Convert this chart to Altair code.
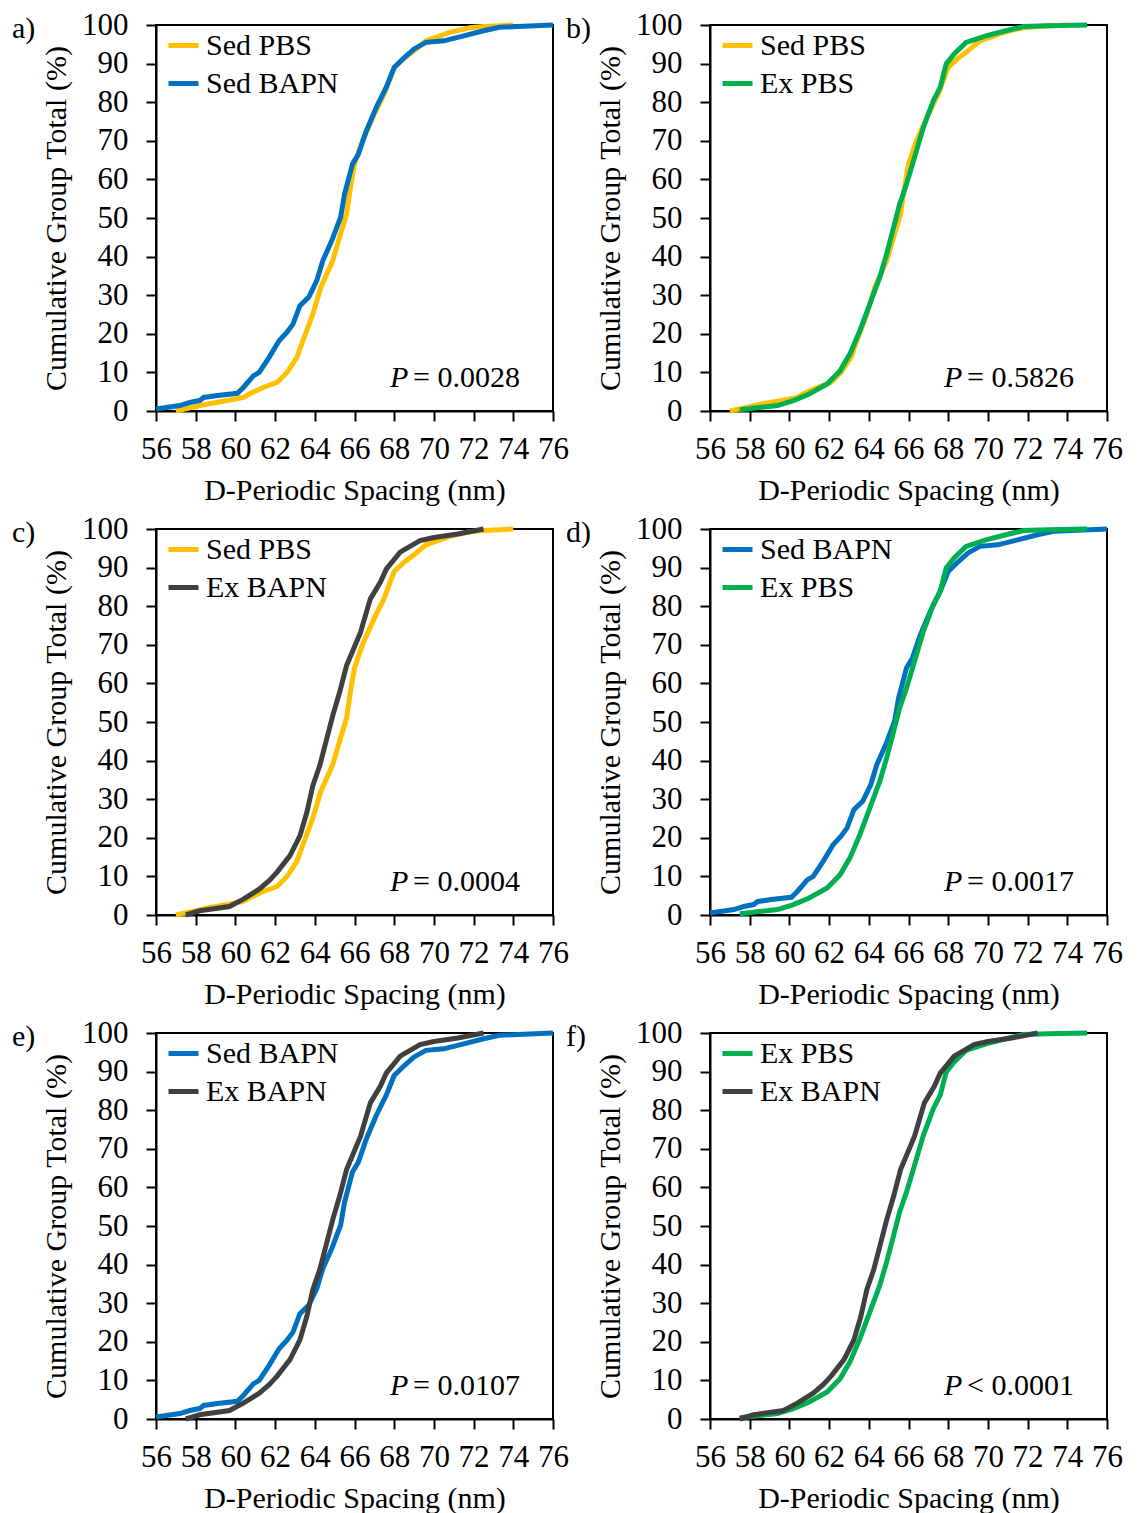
import altair as alt
import pandas as pd

FONT = "Liberation Serif"

# ---- data (cumulative % vs D-periodic spacing, nm) ----
sed_pbs_x = [57.0, 57.9, 58.6, 59.6, 60.4, 60.7, 61.4, 62.1, 62.6, 63.1, 63.4, 63.9, 64.3, 64.9, 65.3,
             65.6, 65.8, 66.0, 66.4, 67.0, 67.5, 68.0, 68.5, 69.0, 69.6, 70.2, 70.8, 71.8, 72.5, 74.0]
sed_pbs_y = [0.0, 1.0, 1.8, 2.7, 3.5, 4.4, 6.1, 7.4, 10.0, 13.9, 18.2, 25.1, 32.0, 38.9, 45.9,
             51.0, 58.0, 64.0, 70.0, 76.9, 82.1, 89.0, 91.4, 93.3, 95.9, 97.0, 98.1, 99.3, 99.6, 100.0]

sed_bapn_x = [56.0, 57.2, 57.7, 58.2, 58.4, 59.1, 60.1, 60.4, 60.9, 61.2, 61.7, 62.2, 62.6, 62.9, 63.25,
              63.7, 64.1, 64.4, 64.85, 65.3, 65.5, 65.9, 66.2, 66.6, 67.1, 67.6, 68.0, 68.5, 69.0, 69.6,
              70.5, 71.5, 72.5, 73.3, 74.2, 76.0]
sed_bapn_y = [0.5, 1.4, 2.2, 2.7, 3.5, 4.0, 4.6, 6.1, 9.1, 10.0, 13.9, 18.2, 20.4, 22.5, 27.3,
              29.5, 33.8, 38.9, 44.1, 50.2, 56.2, 64.0, 66.6, 72.6, 78.7, 83.9, 89.0, 91.5, 93.8, 95.5,
              95.9, 97.2, 98.5, 99.4, 99.6, 100.0]

ex_pbs_x = [57.5, 58.5, 59.4, 60.2, 61.0, 61.9, 62.55, 63.05, 63.55, 64.05, 64.55, 64.9, 65.25, 65.55,
            65.9, 66.25, 66.75, 67.25, 67.6, 67.9, 68.3, 68.9, 69.9, 70.9, 71.8, 73.0, 75.0]
ex_pbs_y = [0.3, 0.9, 1.4, 2.7, 4.4, 7.0, 10.4, 14.8, 20.8, 27.7, 34.6, 40.7, 47.6, 53.6,
            58.8, 64.8, 73.5, 80.4, 83.9, 89.9, 92.5, 95.5, 97.2, 98.5, 99.6, 99.8, 100.0]

ex_bapn_x = [57.5, 58.2, 59.7, 60.4, 61.2, 61.7, 62.1, 62.75, 63.25, 63.6, 63.9, 64.25, 64.6, 64.9,
             65.25, 65.6, 65.95, 66.3, 66.8, 67.3, 67.6, 68.3, 69.3, 70.0, 71.2, 72.5]
ex_bapn_y = [0.0, 1.1, 2.2, 4.1, 6.7, 8.9, 11.1, 15.4, 20.5, 26.6, 33.5, 38.7, 45.6, 51.6,
             57.7, 64.6, 68.9, 73.2, 81.9, 86.2, 89.6, 94.0, 97.0, 97.8, 98.7, 100.0]

series_names = ["Sed PBS", "Sed BAPN", "Ex PBS", "Ex BAPN"]
series_colors = ["#FFC000", "#0070C0", "#00B050", "#404040"]
series_data = {
    "Sed PBS": (sed_pbs_x, sed_pbs_y),
    "Sed BAPN": (sed_bapn_x, sed_bapn_y),
    "Ex PBS": (ex_pbs_x, ex_pbs_y),
    "Ex BAPN": (ex_bapn_x, ex_bapn_y),
}

panel_labels = ["a)", "b)", "c)", "d)", "e)", "f)"]
panel_pairs = [("Sed PBS", "Sed BAPN"), ("Sed PBS", "Ex PBS"), ("Sed PBS", "Ex BAPN"),
               ("Sed BAPN", "Ex PBS"), ("Sed BAPN", "Ex BAPN"), ("Ex PBS", "Ex BAPN")]
p_texts = ["= 0.0028", "= 0.5826", "= 0.0004", "= 0.0017", "= 0.0107", "< 0.0001"]

x_ticks = list(range(56, 77, 2))
y_ticks = list(range(0, 101, 10))

rows = []
for name in series_names:
    xs, ys = series_data[name]
    for i, (xv, yv) in enumerate(zip(xs, ys)):
        rows.append({"series": name, "x": xv, "y": yv, "i": i})
df = pd.DataFrame(rows)
color_of = dict(zip(series_names, series_colors))

W, H = 397, 386


def panel(k):
    s1, s2 = panel_pairs[k]
    color = alt.Color(
        "series:N",
        scale=alt.Scale(domain=[s1, s2], range=[color_of[s1], color_of[s2]]),
        legend=alt.Legend(
            title=None, orient="none", legendX=10, legendY=3, padding=0,
            symbolType="stroke", symbolStrokeWidth=5, symbolSize=900,
            labelFont=FONT, labelFontSize=30, labelColor="black",
            labelOffset=5, rowPadding=5, labelLimit=400,
        ),
        sort=[s1, s2],
    )
    xenc = alt.X("x:Q", scale=alt.Scale(domain=[56, 76], nice=False),
                 axis=alt.Axis(values=x_ticks, title="D-Periodic Spacing (nm)",
                               labelPadding=13, titlePadding=11, labelFlush=False,
                               labelOverlap=False))
    yenc = alt.Y("y:Q", scale=alt.Scale(domain=[0, 100], nice=False),
                 axis=alt.Axis(values=y_ticks, title="Cumulative Group Total (%)",
                               labelPadding=18, titlePadding=10, labelOverlap=False))
    layers = []
    for s in (s1, s2):
        layers.append(
            alt.Chart(df).transform_filter(alt.datum.series == s)
            .mark_line(strokeWidth=5, clip=False)
            .encode(x=xenc, y=yenc, color=color, order="i:Q")
        )
    p_italic = alt.Chart(pd.DataFrame({"t": ["P"]})).mark_text(
        font=FONT, fontSize=30, fontStyle="italic", align="left", baseline="alphabetic",
        color="black").encode(x=alt.value(234), y=alt.value(362), text="t:N")
    p_rest = alt.Chart(pd.DataFrame({"t": [p_texts[k]]})).mark_text(
        font=FONT, fontSize=30, align="left", baseline="alphabetic",
        color="black").encode(x=alt.value(257), y=alt.value(362), text="t:N")
    lab = alt.Chart(pd.DataFrame({"t": [panel_labels[k]]})).mark_text(
        font=FONT, fontSize=30, align="left", baseline="middle",
        color="black").encode(x=alt.value(-144), y=alt.value(4), text="t:N")
    return alt.layer(*layers, p_italic, p_rest, lab).properties(width=W, height=H)


chart = alt.concat(*[panel(k) for k in range(6)], columns=2,
                   spacing=alt.RowColnumber(row=118, column=157),
                   bounds="flush").resolve_scale(color="independent").resolve_legend(
    color="independent")

chart = chart.configure_axis(
    labelFont=FONT, labelFontSize=31, labelColor="black",
    titleFont=FONT, titleFontSize=30, titleFontWeight="normal", titleColor="black",
    domainColor="black", domainWidth=2, tickColor="black", tickWidth=2, tickSize=10,
    grid=False,
).configure_view(stroke="black", strokeWidth=2).properties(
    padding={"left": 3, "top": 0, "right": 0, "bottom": 0}, background="white")

chart.save("out.html", embed_options={"renderer": "svg", "actions": False})
